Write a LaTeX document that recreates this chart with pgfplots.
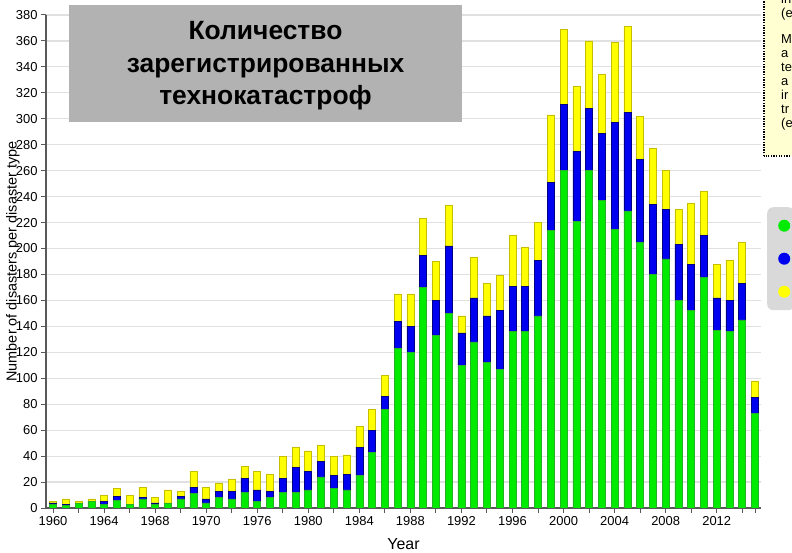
\documentclass[border=0pt]{standalone}
\usepackage{pgfplots}
\pgfplotsset{compat=1.18}
\usepackage{pgfplotstable}
\usepackage{fontspec}
\setmainfont{Liberation Sans}
\definecolor{cgreen}{RGB}{0,235,0}
\definecolor{cgreenedge}{RGB}{40,175,40}
\definecolor{cblue}{RGB}{0,0,240}
\definecolor{cblueedge}{RGB}{0,0,130}
\definecolor{cyellow}{RGB}{255,255,0}
\definecolor{cyellowedge}{RGB}{200,190,0}
\definecolor{titlegray}{RGB}{178,178,178}
\definecolor{noteyellow}{RGB}{255,255,210}

\pgfplotstableread{
i g b y
0 3 1 1
1 2 1 4
2 4 0 1
3 5 0 2
4 3 2 5
5 6 3 6
6 3 0 7
7 7 1 8
8 3 1 4
9 4 0 10
10 7 2 4
11 11 5 12
12 4 3 9
13 8 5 6
14 7 6 9
15 12 11 9
16 5 9 14
17 8 5 13
18 12 11 17
19 12 19 16
20 14 14 16
21 24 12 12
22 15 10 15
23 14 12 15
24 25 22 16
25 43 17 16
26 76 10 16
27 123 21 21
28 120 20 25
29 170 25 28
30 133 27 30
31 150 52 31
32 110 25 13
33 128 34 31
34 112 36 25
35 107 45 27
36 136 35 39
37 136 35 30
38 148 43 29
39 214 37 52
40 260 51 58
41 221 54 50
42 260 48 52
43 237 52 45
44 215 82 62
45 229 76 66
46 205 64 33
47 180 54 43
48 192 38 30
49 160 43 27
50 152 36 47
51 178 32 34
52 137 25 26
53 136 24 31
54 145 28 32
55 73 12 13
}\datatable

\begin{document}
\begin{tikzpicture}
\path[use as bounding box] (0,0) rectangle (792bp,553bp);
\clip (0,0) rectangle (792bp,553bp);
\begin{axis}[
  at={(46bp,45bp)}, anchor=south west,
  scale only axis, width=715bp, height=493bp,
  xmin=-0.55, xmax=55.47, ymin=0, ymax=380,
  ybar stacked, bar width=7bp,
  axis x line*=bottom, axis y line*=left,
  axis line style={-, draw=black!65, line width=1.2bp},
  tick style={draw=black!65, line width=1bp},
  tick align=outside, major tick length=5bp, minor tick length=5bp,
  ytick={0,20,...,380},
  xtick={0,4,...,52},
  xticklabels={1960,1964,1968,1970,1976,1980,1984,1988,1992,1996,2000,2004,2008,2012},
  minor xtick={2,6,10,14,18,22,26,30,34,38,42,46,50,54,55},
  ymajorgrids, grid style={draw=black!12, line width=1.2bp},
  tick label style={font=\fontsize{13}{13}\selectfont},
  /pgf/number format/assume math mode=true,
  every axis y label/.style={at={(axis description cs:0,0.5)}, xshift=-33bp, rotate=90, anchor=center, font=\fontsize{14.5}{14.5}\selectfont},
  every axis x label/.style={at={(axis description cs:0.5,0)}, yshift=-36bp, anchor=center, font=\fontsize{16}{16}\selectfont},
  ylabel={Number of disasters per disaster type},
  xlabel={Year},
  legend style={at={(1.0084,0.6105)}, anchor=north west, fill=gray!30, draw=none,
    rounded corners=6bp, row sep=0bp, inner xsep=0bp, inner ysep=2bp},
  legend cell align=left,
]
\addplot[fill=cgreen, draw=cgreenedge, line width=0.6bp,
  legend image code/.code={\path[draw=none, fill=none] (-17bp,-16.5bp) rectangle (6bp,16.5bp); \fill[cgreen, draw=none] (0bp,0bp) circle (6bp);}]
  table[x=i, y=g]{\datatable};
\addlegendentry{}
\addplot[fill=cblue, draw=cblueedge, line width=0.6bp,
  legend image code/.code={\path[draw=none, fill=none] (-17bp,-16.5bp) rectangle (6bp,16.5bp); \fill[cblue, draw=none] (0bp,0bp) circle (6bp);}]
  table[x=i, y=b]{\datatable};
\addlegendentry{}
\addplot[fill=cyellow, draw=cyellowedge, line width=0.6bp,
  legend image code/.code={\path[draw=none, fill=none] (-17bp,-16.5bp) rectangle (6bp,16.5bp); \fill[cyellow, draw=none] (0bp,0bp) circle (6bp);}]
  table[x=i, y=y]{\datatable};
\addlegendentry{}
\end{axis}
% title box
\node[fill=titlegray, minimum width=393bp, minimum height=117bp, inner sep=0] at (265.5bp,489.5bp) {};
\node[align=center, font=\fontsize{26.5}{32.5}\bfseries\selectfont] at (265.5bp,487bp) {Количество\\зарегистрированных\\технокатастроф};
% note box (cut off at right edge)
\draw[fill=noteyellow, draw=black, line width=1.3bp, dash pattern=on 1.3bp off 1.3bp] (764bp,397bp) rectangle (800bp,560bp);
\begin{scope}[every node/.style={anchor=base west, inner sep=0, font=\fontsize{13}{13}\selectfont}]
\node at (781bp,549bp) {in};
\node at (781bp,535bp) {(e};
\node at (781bp,509bp) {M};
\node at (781bp,495bp) {a};
\node at (781bp,481bp) {te};
\node at (781bp,467bp) {a};
\node at (781bp,453bp) {ir};
\node at (781bp,439bp) {tr};
\node at (781bp,425bp) {(e};
\end{scope}
\end{tikzpicture}
\end{document}
